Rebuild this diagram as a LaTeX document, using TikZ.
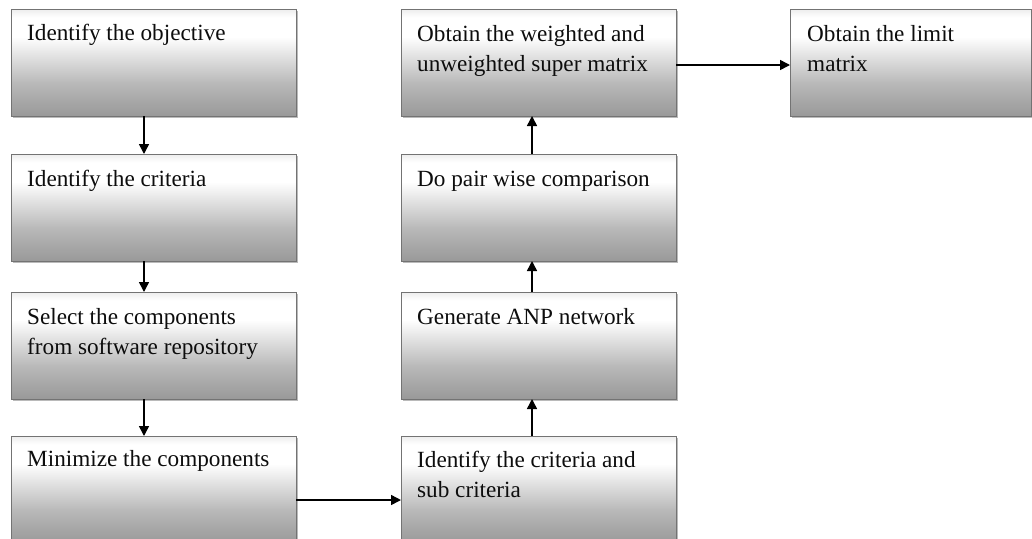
\documentclass[tikz,border=0pt]{standalone}
\usepackage{fontspec}
\setmainfont{Liberation Serif}
\usetikzlibrary{shadows,arrows.meta}

\definecolor{boxlow}{gray}{0.60}
\definecolor{boxmid}{gray}{0.72}
\definecolor{boxtop}{gray}{0.93}
\definecolor{boxedge}{gray}{0.45}
\definecolor{inkcol}{gray}{0.05}

% white near the top, fading to grey at the bottom (path maps to 25bp..75bp)
\pgfdeclareverticalshading{boxfade}{100bp}{%
  color(0bp)=(boxlow); color(25bp)=(boxlow); color(40bp)=(boxmid);
  color(62bp)=(white); color(71bp)=(white); color(75bp)=(boxtop);
  color(100bp)=(boxtop)}

\tikzset{
  stepbox/.style={rectangle, draw=boxedge, line width=0.8pt, shading=boxfade,
    anchor=north west, inner sep=0pt, outer sep=0pt,
    minimum width=285pt, minimum height=107pt,
    drop shadow={shadow xshift=1.8pt, shadow yshift=-1.8pt, opacity=0.45, fill=black!60}},
  widebox/.style={stepbox, minimum width=275pt},
  % multi-line labels are anchored at the baseline of their last line
  boxtext/.style={anchor=base west, align=left, inner sep=0pt, text=inkcol,
    font=\fontsize{23.2}{30}\selectfont},
  flow/.style={line width=1.5pt, draw=black,
    -{Triangle[length=10pt,width=10pt]}},
}

\begin{document}
\begin{tikzpicture}[x=1pt, y=-1pt]
\useasboundingbox (0,0) rectangle (1032,538);
\clip (0,0) rectangle (1032,538);
\fill[white] (0,0) rectangle (1032,538);

% left column
\node[stepbox] (s1) at (11,9) {};
\node[stepbox] (s2) at (11,154) {};
\node[stepbox] (s3) at (11,292) {};
\node[stepbox] (s4) at (11,436) {};

% middle column
\node[widebox] (m1) at (401,9) {};
\node[widebox] (m2) at (401,154) {};
\node[widebox] (m3) at (401,292) {};
\node[widebox] (m4) at (401,436) {};

% right box
\node[stepbox, minimum width=241pt] (r1) at (790,9) {};

% labels
\node[boxtext] (t1) at (27,40) {Identify the objective};
\node[boxtext] (t2) at (27,186) {Identify the criteria};
\node[boxtext] (t3) at (27,354) {Select the components\\from software repository};
\node[boxtext] (t4) at (27,466) {Minimize the components};
\node[boxtext] (u1) at (417,71) {Obtain the weighted and\\unweighted super matrix};
\node[boxtext] (u2) at (417,186) {Do pair wise comparison};
\node[boxtext] (u3) at (417,324) {Generate ANP network};
\node[boxtext] (u4) at (417,497) {Identify the criteria and\\sub criteria};
\node[boxtext] (v1) at (807,71) {Obtain the limit\\matrix};

% connectors
\draw[flow] ([xshift=-9.5pt]s1.south) -- ([xshift=-9.5pt]s2.north);
\draw[flow] ([xshift=-9.5pt]s2.south) -- ([xshift=-9.5pt]s3.north);
\draw[flow] ([xshift=-9.5pt]s3.south) -- ([xshift=-9.5pt]s4.north);
\draw[flow] ([yshift=-10.5pt]s4.east) -- ([yshift=-10.5pt]m4.west);
\draw[flow] ([xshift=-6.5pt]m4.north) -- ([xshift=-6.5pt]m3.south);
\draw[flow] ([xshift=-6.5pt]m3.north) -- ([xshift=-6.5pt]m2.south);
\draw[flow] ([xshift=-6.5pt]m2.north) -- ([xshift=-6.5pt]m1.south);
\draw[flow] ([yshift=-2.5pt]m1.east) -- ([yshift=-2.5pt]r1.west);
\end{tikzpicture}
\end{document}
